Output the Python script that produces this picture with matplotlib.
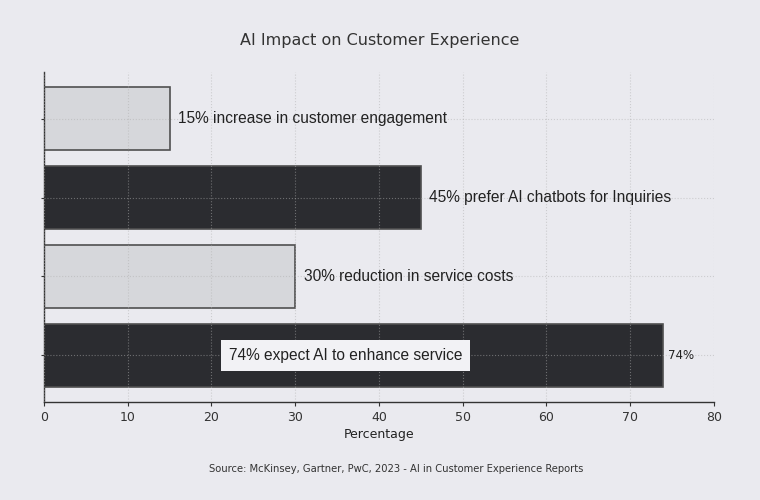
import matplotlib
matplotlib.use('Agg')
import matplotlib.pyplot as plt

# data, bottom to top
values = [74, 30, 45, 15]
labels = [
    '74% expect AI to enhance service',
    '30% reduction in service costs',
    '45% prefer AI chatbots for Inquiries',
    '15% increase in customer engagement',
]
bar_colors = ['#2b2c30', '#d6d7db', '#2b2c30', '#d6d7db']
x_ticks = [0, 10, 20, 30, 40, 50, 60, 70, 80]

bg = '#eaeaef'
fig = plt.figure(figsize=(7.6, 5), dpi=100, facecolor=bg)
ax = fig.add_axes([0.058, 0.196, 0.881, 0.66], facecolor=bg)

pos = list(range(len(values)))
ax.barh(pos, values, height=0.8, color=bar_colors, edgecolor='#505050', linewidth=1.2, zorder=2)

ax.set_xlim(0, 80)
ax.set_xticks(x_ticks)
ax.set_yticks(pos)
ax.set_yticklabels([])
ax.tick_params(axis='both', colors='#333333', labelsize=9, length=3)
ax.tick_params(axis='y', length=2)
ax.set_xlabel('Percentage', fontsize=9, color='#222222', labelpad=3)

# grid drawn over the bars, dotted
ax.grid(True, linestyle=':', color='#b0b0b0', alpha=0.5, linewidth=0.8, zorder=3)
ax.set_axisbelow(False)
for s in ['top', 'right']:
    ax.spines[s].set_visible(False)
for s in ['left', 'bottom']:
    ax.spines[s].set_color('#333333')
    ax.spines[s].set_linewidth(1.0)

txt_font = ['Liberation Sans', 'DejaVu Sans']
for i, (v, lab) in enumerate(zip(values, labels)):
    if i == 0:
        ax.text(22.1, i, lab, va='center', ha='left', fontsize=11.2, family=txt_font, color='#222222',
                bbox=dict(boxstyle='square,pad=0.5', facecolor='#f2f2f5', edgecolor='none'), zorder=5)
        ax.text(v + 0.5, i, f'{v}%', va='center', ha='left', fontsize=8.5, color='#222222', zorder=5)
    else:
        ax.text(v + 1.0, i, lab, va='center', ha='left', fontsize=11.2, family=txt_font, color='#222222', zorder=5)

fig.suptitle('AI Impact on Customer Experience', y=0.935, fontsize=11.5, color='#333333')
fig.text(0.521, 0.055, 'Source: McKinsey, Gartner, PwC, 2023 - AI in Customer Experience Reports',
         ha='center', fontsize=7.2, color='#333333')

fig.savefig('out.png', dpi=100, facecolor=bg)
